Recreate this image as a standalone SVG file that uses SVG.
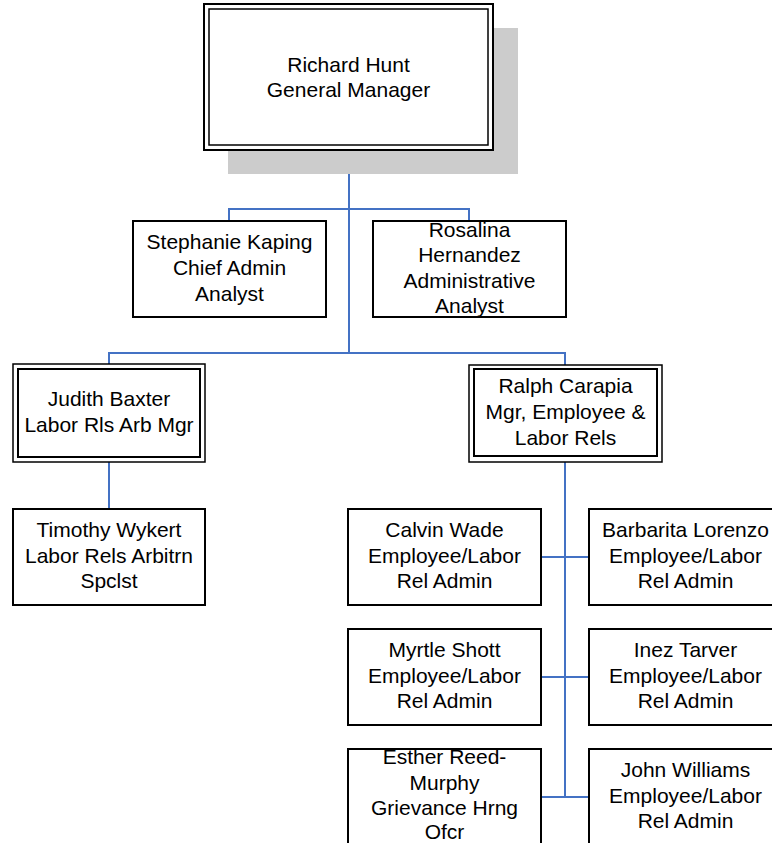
<svg xmlns="http://www.w3.org/2000/svg" width="772" height="843" viewBox="0 0 772 843">
<style>
.box{fill:#fff;stroke:#000;stroke-width:2}
.dbl{fill:none;stroke:#000;stroke-width:1.5}
.shadow{fill:#cccccc}
.conn{fill:none;stroke:#4472C4;stroke-width:2}
text{font-family:"Liberation Sans",Arial,sans-serif;font-size:21px;fill:#000;text-anchor:middle}
</style>
<rect width="772" height="843" fill="#fff"/>
<g id="connectors">
<path class="conn" d="M349 150 V353"/>
<path class="conn" d="M229 221 V209 H469 V221"/>
<path class="conn" d="M109 364 V353 H565 V365"/>
<path class="conn" d="M109 462 V509"/>
<path class="conn" d="M565 462 V797"/>
<path class="conn" d="M541 557 H589"/>
<path class="conn" d="M541 677 H589"/>
<path class="conn" d="M541 797 H589"/>
</g>
<g id="node-richard-hunt">
<rect class="shadow" x="228" y="28" width="290" height="146"/>
<rect x="204" y="4" width="289" height="146" fill="#fff" stroke="#000" stroke-width="2"/>
<rect class="dbl" x="209" y="9" width="279" height="136"/>
<text x="348.5" y="72">Richard Hunt</text>
<text x="348.5" y="97">General Manager</text>
</g>
<g id="node-stephanie-kaping">
<rect class="box" x="133" y="221" width="193" height="96"/>
<text x="229.5" y="249">Stephanie Kaping</text>
<text x="229.5" y="275">Chief Admin</text>
<text x="229.5" y="301">Analyst</text>
</g>
<g id="node-rosalina-hernandez">
<rect class="box" x="373" y="221" width="193" height="96"/>
<text x="469.5" y="237">Rosalina</text>
<text x="469.5" y="262">Hernandez</text>
<text x="469.5" y="288">Administrative</text>
<text x="469.5" y="313">Analyst</text>
</g>
<g id="node-judith-baxter">
<rect x="13" y="364" width="192" height="98" fill="#fff" stroke="#000" stroke-width="1.5"/>
<rect x="18" y="369" width="182" height="88" fill="none" stroke="#000" stroke-width="2"/>
<text x="109" y="406">Judith Baxter</text>
<text x="109" y="432">Labor Rls Arb Mgr</text>
</g>
<g id="node-ralph-carapia">
<rect x="469" y="365" width="193" height="97" fill="#fff" stroke="#000" stroke-width="1.5"/>
<rect x="474" y="369" width="183" height="87" fill="none" stroke="#000" stroke-width="2"/>
<text x="565.5" y="393">Ralph Carapia</text>
<text x="565.5" y="419">Mgr, Employee &amp;</text>
<text x="565.5" y="445">Labor Rels</text>
</g>
<g id="node-timothy-wykert">
<rect class="box" x="13" y="509" width="192" height="96"/>
<text x="109" y="537">Timothy Wykert</text>
<text x="109" y="563">Labor Rels Arbitrn</text>
<text x="109" y="588">Spclst</text>
</g>
<g id="node-calvin-wade">
<rect class="box" x="348" y="509" width="193" height="96"/>
<text x="444.5" y="537">Calvin Wade</text>
<text x="444.5" y="563">Employee/Labor</text>
<text x="444.5" y="588">Rel Admin</text>
</g>
<g id="node-barbarita-lorenzo">
<rect class="box" x="589" y="509" width="193" height="96"/>
<text x="685.5" y="537">Barbarita Lorenzo</text>
<text x="685.5" y="563">Employee/Labor</text>
<text x="685.5" y="588">Rel Admin</text>
</g>
<g id="node-myrtle-shott">
<rect class="box" x="348" y="629" width="193" height="96"/>
<text x="444.5" y="657">Myrtle Shott</text>
<text x="444.5" y="683">Employee/Labor</text>
<text x="444.5" y="708">Rel Admin</text>
</g>
<g id="node-inez-tarver">
<rect class="box" x="589" y="629" width="193" height="96"/>
<text x="685.5" y="657">Inez Tarver</text>
<text x="685.5" y="683">Employee/Labor</text>
<text x="685.5" y="708">Rel Admin</text>
</g>
<g id="node-esther-reed-murphy">
<rect class="box" x="348" y="749" width="193" height="100"/>
<text x="444.5" y="764">Esther Reed-</text>
<text x="444.5" y="790">Murphy</text>
<text x="444.5" y="815">Grievance Hrng</text>
<text x="444.5" y="839">Ofcr</text>
</g>
<g id="node-john-williams">
<rect class="box" x="589" y="749" width="193" height="100"/>
<text x="685.5" y="777">John Williams</text>
<text x="685.5" y="803">Employee/Labor</text>
<text x="685.5" y="828">Rel Admin</text>
</g>
</svg>
